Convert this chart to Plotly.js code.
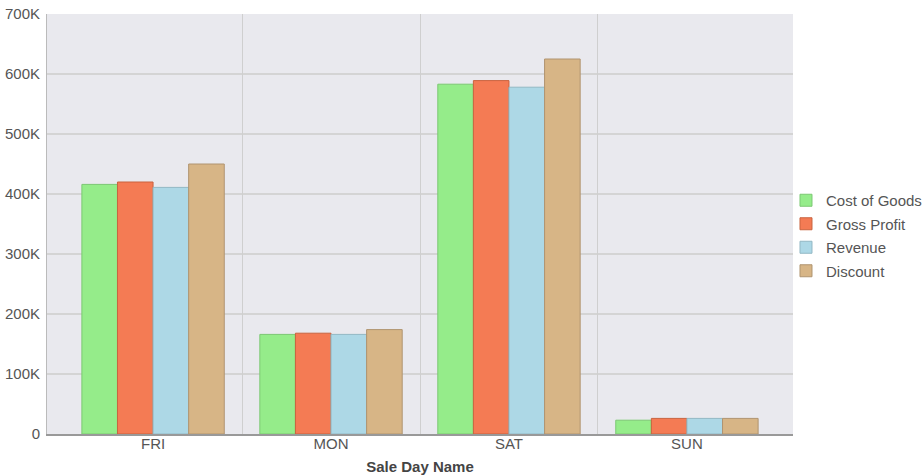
<!DOCTYPE html>
<html>
<head>
<meta charset="utf-8">
<script src="https://cdn.plot.ly/plotly-3.0.1.min.js"></script>
<style>html,body{margin:0;padding:0;background:#fff;}#chart{width:924px;height:475px;}</style>
</head>
<body>
<div id="chart"></div>
<script>
var days = ["FRI", "MON", "SAT", "SUN"];
var costOfGoods = [416000, 166000, 583000, 23000];
var grossProfit = [420000, 168000, 589000, 26000];
var revenue = [411000, 166000, 578000, 26000];
var discount = [450000, 174000, 625000, 26000];
var seriesNames = ["Cost of Goods", "Gross Profit", "Revenue", "Discount"];
var seriesColors = ["#95ec8a", "#f47b54", "#add8e6", "#d7b586"];
var edgeColors = ["#7cc873", "#c9633f", "#92b8c4", "#b09470"];
var yTicks = [0, 100000, 200000, 300000, 400000, 500000, 600000, 700000];
var yTickText = ["0", "100K", "200K", "300K", "400K", "500K", "600K", "700K"];
var categoryDividers = [0.5, 1.5, 2.5];

var allValues = [costOfGoods, grossProfit, revenue, discount];
var traces = allValues.map(function (vals, i) {
  return {
    type: "bar",
    name: seriesNames[i],
    legendgroup: "g" + i,
    x: days,
    y: vals,
    marker: {color: seriesColors[i], line: {color: edgeColors[i], width: 1}},
    hoverinfo: "x+y+name"
  };
});
// invisible helper trace so the divider grid axis is drawn
traces.push({
  type: "scatter",
  mode: "none",
  x: categoryDividers,
  y: categoryDividers.map(function () { return null; }),
  xaxis: "x2",
  yaxis: "y",
  showlegend: false,
  hoverinfo: "skip"
});

var xRange = [-0.596, 3.596];

var layout = {
  width: 924,
  height: 475,
  margin: {l: 47, r: 131, t: 14, b: 41, autoexpand: false},
  paper_bgcolor: "#ffffff",
  plot_bgcolor: "#e9e9ee",
  barmode: "group",
  bargap: 0.2,
  bargroupgap: 0,
  font: {family: "Arial, 'Liberation Sans', sans-serif", size: 15, color: "#555555"},
  showlegend: true,
  legend: {
    x: 0.9906, y: 0.4726, xanchor: "left", yanchor: "middle",
    font: {size: 15, color: "#555555"},
    traceorder: "grouped",
    itemwidth: 30, tracegroupgap: 1, bgcolor: "rgba(0,0,0,0)"
  },
  xaxis: {
    type: "category",
    range: xRange,
    showgrid: false,
    showline: true,
    linecolor: "#999999",
    linewidth: 2,
    ticks: "",
    ticklabelstandoff: -5,
    tickfont: {size: 15, color: "#555555"},
    title: {text: "Sale Day Name", font: {size: 15, color: "#444444", weight: "bold"}, standoff: 12},
    fixedrange: true
  },
  xaxis2: {
    type: "linear",
    overlaying: "x",
    side: "bottom",
    range: xRange,
    autorange: false,
    tickvals: categoryDividers,
    showticklabels: false,
    showgrid: true,
    gridcolor: "#cfcfcf",
    gridwidth: 1,
    zeroline: false,
    showline: false,
    ticks: "",
    fixedrange: true
  },
  yaxis: {
    range: [0, 700000],
    tickvals: yTicks,
    ticktext: yTickText,
    showgrid: true,
    gridcolor: "#d4d4d4",
    gridwidth: 1.5,
    showline: true,
    linecolor: "#bbbbbb",
    linewidth: 1,
    zeroline: false,
    ticks: "",
    ticklabelstandoff: 3,
    tickfont: {size: 15, color: "#555555"},
    fixedrange: true
  }
};

Plotly.newPlot("chart", traces, layout, {displayModeBar: false});
</script>
</body>
</html>
